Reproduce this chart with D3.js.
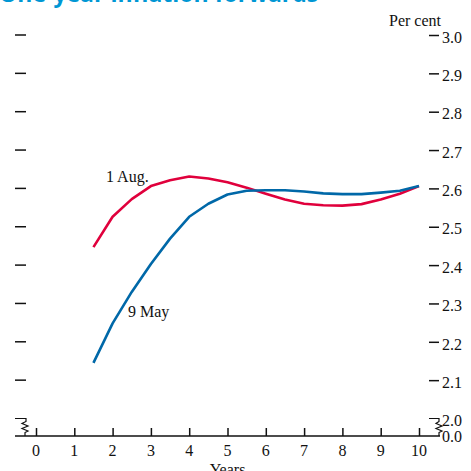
<!DOCTYPE html>
<html><head><meta charset="utf-8">
<script src="https://cdn.jsdelivr.net/npm/d3@7"></script>
<style>
html,body{margin:0;padding:0;background:#fff;}
svg{display:block;}
</style></head>
<body>
<script>
const years = [1.5,2,2.5,3,3.5,4,4.5,5,5.5,6,6.5,7,7.5,8,8.5,9,9.5,10];
const aug1 = [2.447,2.526,2.572,2.606,2.621,2.631,2.626,2.616,2.602,2.586,2.571,2.560,2.556,2.555,2.559,2.571,2.586,2.606];
const may9 = [2.145,2.248,2.330,2.403,2.469,2.526,2.560,2.584,2.594,2.595,2.595,2.592,2.587,2.585,2.585,2.589,2.594,2.606];
const yTicks = [2.1,2.2,2.3,2.4,2.5,2.6,2.7,2.8,2.9,3.0];
const xTicks = [0,1,2,3,4,5,6,7,8,9,10];
const seriesNames = ["1 Aug.","9 May"];

const W=471,H=471;
const svg=d3.select("body").append("svg").attr("width",W).attr("height",H);
const serif="'Liberation Serif','Times New Roman',serif";
const fs=16;

const x=d3.scaleLinear().domain([0,10]).range([36,419]);
const y=d3.scaleLinear().domain([2.0,3.0]).range([418.5,35]);
const axisY=436;

// title (clipped at top, as in the reference)
svg.append("text").attr("x",-1).attr("y",2)
  .attr("font-family","'Open Sans',sans-serif").attr("font-weight","bold")
  .attr("font-size",23).attr("fill","#0097d4").text("One-year inflation forwards");

svg.append("text").attr("x",441).attr("y",26).attr("text-anchor","end")
  .attr("font-family",serif).attr("font-size",fs).attr("fill","#111").text("Per cent");

// left ticks
svg.append("g").selectAll("line").data(yTicks).join("line")
  .attr("x1",15).attr("x2",26).attr("y1",d=>y(d)).attr("y2",d=>y(d))
  .attr("stroke","#111").attr("stroke-width",1.5);

// right axis
const rAxis=d3.axisRight(y).tickValues(yTicks).tickSize(10).tickPadding(3).tickFormat(d3.format(".1f"));
const rg=svg.append("g").attr("transform","translate(429,0)").call(rAxis);
rg.select(".domain").remove();
rg.selectAll(".tick line").attr("stroke","#111").attr("stroke-width",1.5);
rg.selectAll(".tick text").attr("font-family",serif).attr("font-size",fs).attr("fill","#111").attr("dy","0.45em");

// x axis
svg.append("line").attr("x1",15).attr("x2",440).attr("y1",axisY).attr("y2",axisY)
  .attr("stroke","#111").attr("stroke-width",1.5);
const xAxis=d3.axisTop(x).tickValues(xTicks).tickSize(8).tickFormat("");
const xg=svg.append("g").attr("transform",`translate(0,${axisY})`).call(xAxis);
xg.select(".domain").remove();
xg.selectAll(".tick line").attr("stroke","#111").attr("stroke-width",1.5);
svg.append("g").selectAll("text").data(xTicks).join("text")
  .attr("x",d=>x(d)).attr("y",456).attr("text-anchor","middle")
  .attr("font-family",serif).attr("font-size",fs).attr("fill","#111").text(d=>d);
svg.append("text").attr("x",x(5)).attr("y",475).attr("text-anchor","middle")
  .attr("font-family",serif).attr("font-size",fs).attr("fill","#111").text("Years");

// break symbols
function brk(x0,x1,zx){
  const y0=y(2.0);
  const pts=[[x0,y0],[x1,y0],[x1,y0+3],[zx-3,y0+5],[zx+3,y0+7.5],[zx-3,y0+10],[zx+3,y0+12.5],[zx,y0+14],[zx,axisY]];
  svg.append("path").attr("d",d3.line()(pts)).attr("fill","none").attr("stroke","#111").attr("stroke-width",1.2);
}
brk(15,26,25);
brk(429,439,439);
svg.append("text").attr("x",442).attr("y",y(2.0)).attr("dy","0.45em")
  .attr("font-family",serif).attr("font-size",fs).attr("fill","#111").text("2.0");
svg.append("text").attr("x",442).attr("y",axisY).attr("dy","0.4em")
  .attr("font-family",serif).attr("font-size",fs).attr("fill","#111").text("0.0");

// lines
const line=d3.line().x((d,i)=>x(years[i])).y(d=>y(d));
svg.append("path").datum(aug1).attr("d",line).attr("fill","none")
  .attr("stroke","#e0003c").attr("stroke-width",2.6).attr("stroke-linejoin","round");
svg.append("path").datum(may9).attr("d",line).attr("fill","none")
  .attr("stroke","#0068a8").attr("stroke-width",2.6).attr("stroke-linejoin","round");

svg.append("text").attr("x",106).attr("y",182).attr("font-family",serif).attr("font-size",fs).attr("fill","#111").text(seriesNames[0]);
svg.append("text").attr("x",128).attr("y",317).attr("font-family",serif).attr("font-size",fs).attr("fill","#111").text(seriesNames[1]);
</script>
</body></html>
